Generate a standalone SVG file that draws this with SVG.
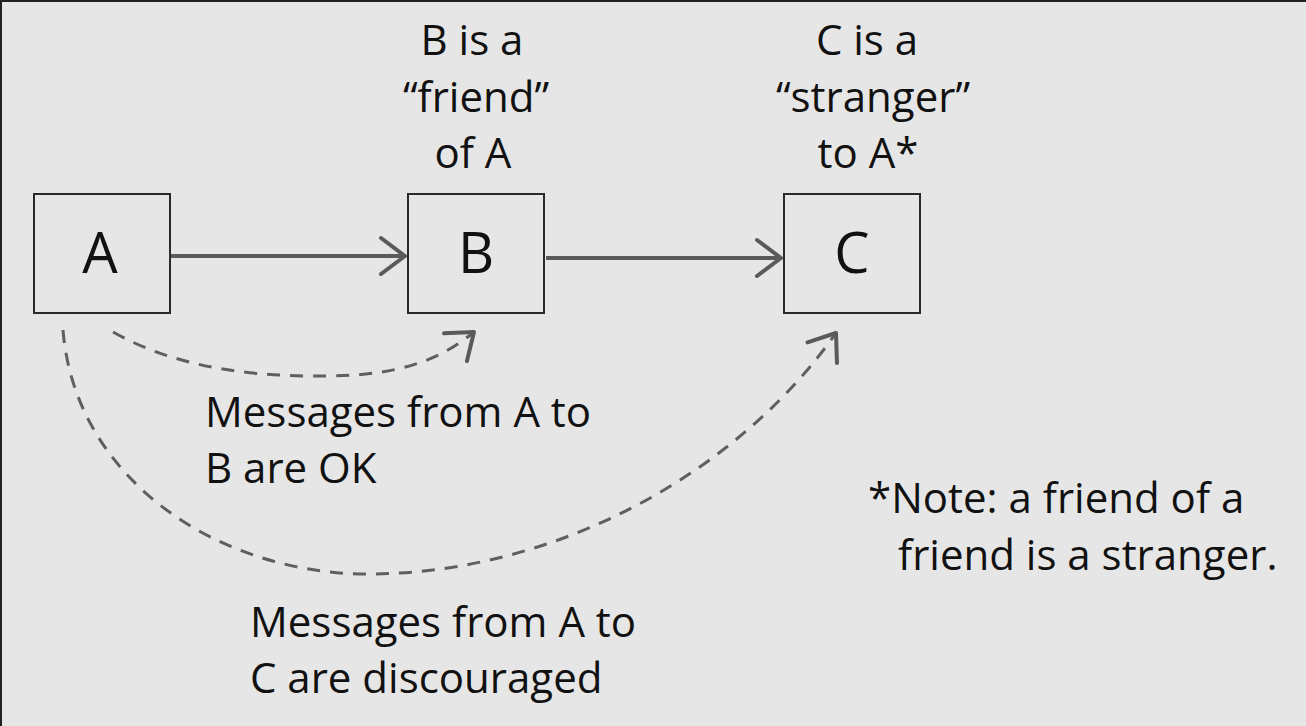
<svg xmlns="http://www.w3.org/2000/svg" width="1306" height="726" viewBox="0 0 1306 726">
  <style>
    .box { fill: none; stroke: #2a2a2a; stroke-width: 2; }
    .lbl { font-family: "Open Sans", "Liberation Sans", sans-serif; font-size: 42px; fill: #111; }
    .big { font-family: "Open Sans", "Liberation Sans", sans-serif; font-size: 56px; fill: #111; text-anchor: middle; }
    .mid { text-anchor: middle; }
    .solid { fill: none; stroke: #5a5a5a; stroke-width: 4; }
    .dash { fill: none; stroke: #5f5f5f; stroke-width: 3; stroke-dasharray: 13 10; }
  </style>
  <defs>
    <marker id="head" markerUnits="userSpaceOnUse" markerWidth="40" markerHeight="50" refX="0" refY="0" viewBox="-30 -25 40 50" orient="auto" overflow="visible">
      <path d="M-24,-18 L0,0 L-24,18" fill="none" stroke="#5a5a5a" stroke-width="4" stroke-linecap="round" stroke-linejoin="round"/>
    </marker>
  </defs>
  <rect x="0" y="0" width="1306" height="726" fill="#e6e6e6"/>
  <line x1="0" y1="1" x2="1306" y2="1" stroke="#222" stroke-width="2"/>
  <line x1="1" y1="0" x2="1" y2="726" stroke="#222" stroke-width="2"/>

  <g id="connectors">
    <path class="solid" d="M171,256 L405,256" marker-end="url(#head)"/>
    <path class="solid" d="M546,258 L781,258" marker-end="url(#head)"/>
    <path class="dash" d="M113,332 C180,370 260,377 330,376 C400,375 440,360 474,332" marker-end="url(#head)"/>
    <path class="dash" d="M63,330 C75,480 220,575 370,574 C560,573 740,470 836,333" marker-end="url(#head)"/>
  </g>

  <g id="node-A">
    <rect class="box" x="34" y="194" width="136" height="119"/>
    <text class="big" x="100" y="273">A</text>
  </g>
  <g id="node-B">
    <rect class="box" x="408" y="194" width="136" height="119"/>
    <text class="big" x="476" y="273">B</text>
  </g>
  <g id="node-C">
    <rect class="box" x="784" y="194" width="136" height="119"/>
    <text class="big" x="852" y="273">C</text>
  </g>

  <g id="label-B">
    <text class="lbl mid" x="472" y="55">B is a</text>
    <text class="lbl mid" x="476" y="112">“friend”</text>
    <text class="lbl mid" x="473" y="168">of A</text>
  </g>
  <g id="label-C">
    <text class="lbl mid" x="867" y="55">C is a</text>
    <text class="lbl mid" x="873" y="112">“stranger”</text>
    <text class="lbl mid" x="868" y="168">to A*</text>
  </g>
  <g id="label-AB">
    <text class="lbl" x="205" y="427">Messages from A to</text>
    <text class="lbl" x="205" y="483">B are OK</text>
  </g>
  <g id="label-AC">
    <text class="lbl" x="250" y="637">Messages from A to</text>
    <text class="lbl" x="250" y="693">C are discouraged</text>
  </g>
  <g id="note">
    <text class="lbl" x="868" y="513">*Note: a friend of a</text>
    <text class="lbl" x="898" y="570">friend is a stranger.</text>
  </g>
</svg>
